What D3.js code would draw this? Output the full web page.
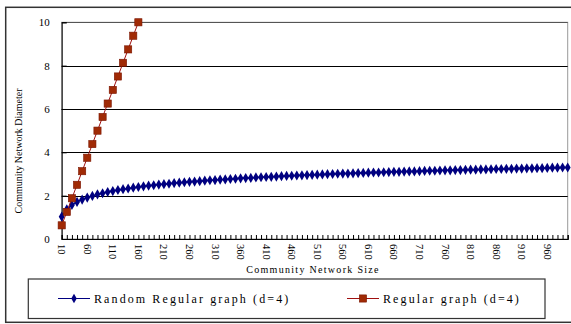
<!DOCTYPE html>
<html>
<head>
<meta charset="utf-8">
<script src="https://cdn.jsdelivr.net/npm/d3@7"></script>
<style>
  html, body { margin: 0; padding: 0; background: #fff; }
  svg { display: block; }
</style>
</head>
<body>
<svg id="chart" width="571" height="324"></svg>
<script>
// ---- data ----
const categories = [10,20,30,40,50,60,70,80,90,100,110,120,130,140,150,160,170,180,190,200,
  210,220,230,240,250,260,270,280,290,300,310,320,330,340,350,360,370,380,390,400,
  410,420,430,440,450,460,470,480,490,500,510,520,530,540,550,560,570,580,590,600,
  610,620,630,640,650,660,670,680,690,700,710,720,730,740,750,760,770,780,790,800,
  810,820,830,840,850,860,870,880,890,900,910,920,930,940,950,960,970,980,990,1000];
const randomRegular = [1.03,1.37,1.57,1.71,1.82,1.91,1.99,2.06,2.11,2.17,2.21,2.26,2.30,2.33,2.37,2.40,2.43,2.46,2.48,2.51,
  2.53,2.55,2.58,2.60,2.62,2.64,2.65,2.67,2.69,2.71,2.72,2.74,2.75,2.77,2.78,2.80,2.81,2.82,2.84,2.85,
  2.86,2.87,2.88,2.90,2.91,2.92,2.93,2.94,2.95,2.96,2.97,2.98,2.99,3.00,3.01,3.02,3.02,3.03,3.04,3.05,
  3.06,3.07,3.07,3.08,3.09,3.10,3.10,3.11,3.12,3.12,3.13,3.14,3.15,3.15,3.16,3.17,3.17,3.18,3.18,3.19,
  3.20,3.20,3.21,3.21,3.22,3.23,3.23,3.24,3.24,3.25,3.25,3.26,3.26,3.27,3.27,3.28,3.29,3.29,3.30,3.30];
const regularCats = [10,20,30,40,50,60,70,80,90,100,110,120,130,140,150,160];
const regular = [0.63,1.25,1.88,2.5,3.13,3.75,4.38,5.0,5.63,6.25,6.88,7.5,8.13,8.75,9.38,10.0];
const yTicks = [0,2,4,6,8,10];
const xTickLabels = [10,60,110,160,210,260,310,360,410,460,510,560,610,660,710,760,810,860,910,960];
const seriesNames = ["Random Regular graph (d=4)", "Regular graph (d=4)"];
const yTitle = "Community Network Diameter";
const xTitle = "Community Network Size";

// ---- layout ----
const svg = d3.select("#chart");
const pL = 61.7, pR = 567.7, pT = 22.3, pB = 239;
const serif = "'Liberation Serif', 'Times New Roman', serif";

const x = d3.scalePoint().domain(categories).range([pL, pR]);
const y = d3.scaleLinear().domain([0, 10]).range([pB, pT]);

// outer border
svg.append("rect").attr("x", 5.7).attr("y", 7.3).attr("width", 580).attr("height", 315)
  .attr("fill", "none").attr("stroke", "#333").attr("stroke-width", 1.5);

// plot area border (right/top grey)
svg.append("rect").attr("x", pL).attr("y", pT).attr("width", pR - pL).attr("height", pB - pT)
  .attr("fill", "none").attr("stroke", "#999").attr("stroke-width", 1);

// gridlines
svg.append("g").selectAll("line").data(yTicks.filter(d => d > 0)).join("line")
  .attr("x1", pL).attr("x2", pR)
  .attr("y1", d => Math.round(y(d)) + 0.5).attr("y2", d => Math.round(y(d)) + 0.5)
  .attr("stroke", d => d === 10 ? "#555" : "#000").attr("stroke-width", 1);

// y axis
const yAxis = d3.axisLeft(y).tickValues(yTicks).tickSize(-5).tickPadding(12);
const gy = svg.append("g").attr("transform", `translate(${pL},0)`).call(yAxis);
gy.select(".domain").attr("stroke", "#000");
gy.selectAll(".tick line").attr("stroke", "#000");
gy.selectAll("text").attr("font-family", serif).attr("font-size", 11).attr("fill", "#000");

// x axis
const xAxis = d3.axisBottom(x).tickValues(categories).tickSize(-4).tickFormat("");
const gx = svg.append("g").attr("transform", `translate(0,${pB})`).call(xAxis);
gx.select(".domain").attr("stroke", "#000").attr("stroke-width", 1.2);
gx.selectAll(".tick line").attr("stroke", "#000");

// x tick labels (rotated)
svg.append("g").selectAll("text").data(xTickLabels).join("text")
  .attr("transform", d => `translate(${x(d)},${pB + 5}) rotate(90)`)
  .attr("text-anchor", "start").attr("dominant-baseline", "central")
  .attr("font-family", serif).attr("font-size", 10.5).attr("fill", "#000")
  .text(d => d);

// axis titles
svg.append("text")
  .attr("transform", `translate(22,151) rotate(-90)`)
  .attr("text-anchor", "middle").attr("font-family", serif).attr("font-size", 10)
  .attr("fill", "#000").text(yTitle);
svg.append("text")
  .attr("x", 313).attr("y", 273).attr("text-anchor", "middle")
  .attr("font-family", serif).attr("font-size", 10).attr("letter-spacing", 1.3)
  .attr("fill", "#000").text(xTitle);

// series: clip to plot area
svg.append("clipPath").attr("id", "clip").append("rect")
  .attr("x", pL - 6).attr("y", pT - 6).attr("width", pR - pL + 12).attr("height", pB - pT + 12);
const plot = svg.append("g").attr("clip-path", "url(#clip)");

const blue = "#000080";
const redLine = "#a01010";
const redFill = "#a02a05";

const lineGen = d3.line().x(d => x(d[0])).y(d => y(d[1]));
const blueData = categories.map((c, i) => [c, randomRegular[i]]);
const redData = regularCats.map((c, i) => [c, regular[i]]);

plot.append("path").datum(blueData).attr("d", lineGen)
  .attr("fill", "none").attr("stroke", blue).attr("stroke-width", 1.5);
plot.append("g").selectAll("path").data(blueData).join("path")
  .attr("d", d3.symbol(d3.symbolDiamond, 30))
  .attr("transform", d => `translate(${x(d[0])},${y(d[1])})`)
  .attr("fill", blue);

plot.append("path").datum(redData).attr("d", lineGen)
  .attr("fill", "none").attr("stroke", redLine).attr("stroke-width", 1);
plot.append("g").selectAll("rect").data(redData).join("rect")
  .attr("x", d => x(d[0]) - 3.6).attr("y", d => y(d[1]) - 3.6)
  .attr("width", 7.2).attr("height", 7.2)
  .attr("fill", redFill).attr("stroke", "#7a1500").attr("stroke-width", 0.6);

// legend
const lg = svg.append("g");
lg.append("rect").attr("x", 28.3).attr("y", 279).attr("width", 516.7).attr("height", 39.5)
  .attr("fill", "#fff").attr("stroke", "#333").attr("stroke-width", 1.2);

const legendItems = [
  { name: seriesNames[0], x0: 58, x1: 90, color: blue, marker: "diamond", tx: 94 },
  { name: seriesNames[1], x0: 347, x1: 379, color: redLine, marker: "square", tx: 383 }
];
const ly = 298.5;
legendItems.forEach(it => {
  lg.append("line").attr("x1", it.x0).attr("x2", it.x1).attr("y1", ly).attr("y2", ly)
    .attr("stroke", it.color).attr("stroke-width", 1);
  const cx = (it.x0 + it.x1) / 2;
  if (it.marker === "diamond") {
    lg.append("path").attr("d", d3.symbol(d3.symbolDiamond, 26))
      .attr("transform", `translate(${cx},${ly})`).attr("fill", blue);
  } else {
    lg.append("rect").attr("x", cx - 3.6).attr("y", ly - 3.6).attr("width", 7.2).attr("height", 7.2)
      .attr("fill", redFill).attr("stroke", "#7a1500").attr("stroke-width", 0.6);
  }
  lg.append("text").attr("x", it.tx).attr("y", ly + 4)
    .attr("font-family", serif).attr("font-size", 12).attr("letter-spacing", 2.1)
    .attr("fill", "#000").text(it.name);
});
</script>
</body>
</html>
